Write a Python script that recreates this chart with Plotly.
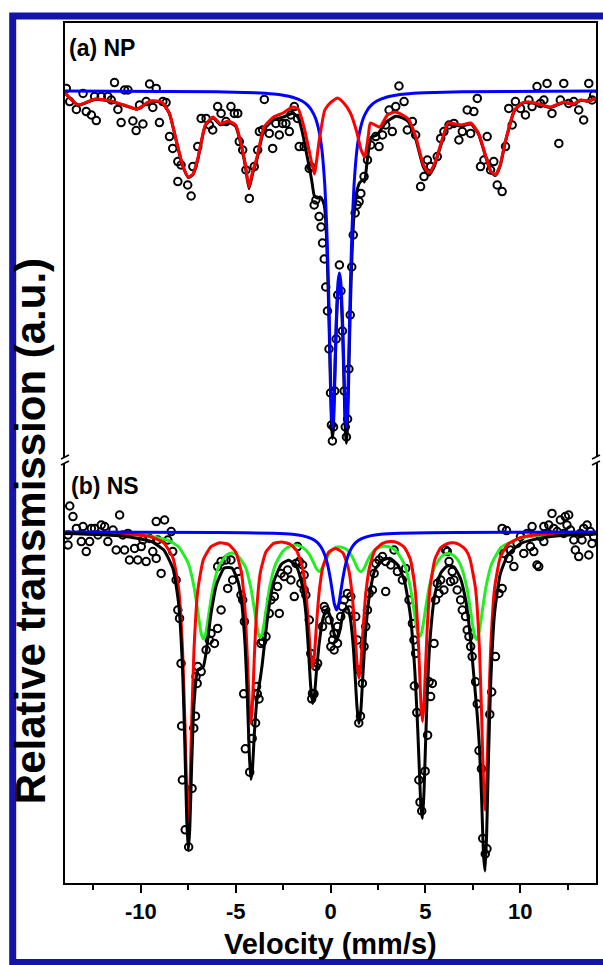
import plotly.graph_objects as go

# ---------------- (a) NP : measured points ----------------
np_v = [-13.93, -13.75, -13.40, -13.05, -12.88, -12.61, -12.44, -12.35, -12.09, -11.74, -11.56, -11.39,
        -11.21, -11.04, -10.86, -10.68, -10.42, -10.25, -10.07, -9.89, -9.72, -9.54, -9.37, -9.19,
        -9.02, -8.84, -8.67, -8.49, -8.32, -8.05, -7.88, -8.05, -7.53, -7.35, -7.26, -7.00, -6.82,
        -6.56, -6.39, -6.21, -5.95, -5.77, -5.51, -5.25, -5.07, -4.89, -4.81, -4.63, -4.46, -4.28,
        -4.02, -3.84, -3.75, -3.58, -3.49, -3.23, -3.05, -2.88, -2.70, -2.53, -2.35, -2.17, -2.09,
        -1.91, -1.74, -1.65, -1.39, -1.12, -1.04, -0.86, -0.77, -0.60,
        -0.50, -0.42, -0.33, -0.25, -0.16, -0.08, 0.00, 0.05, 0.10, 0.16, 0.22, 0.30, 0.38, 0.47,
        0.55, 0.63, 0.72, 0.78, 0.84, 0.90, 0.97, 1.04, 1.12, 1.20, 1.30, 1.40,
        1.51, 1.60, 1.77, 1.95, 2.12, 2.39, 2.56, 2.74, 2.91, 3.09, 3.26, 3.44, 3.61, 3.88, 4.05,
        4.32, 4.49, 4.75, 4.93, 5.11, 5.28, 5.63, 5.81, 5.98, 6.25, 6.51, 6.77, 6.95, 7.21, 7.39,
        7.56, 7.74, 7.91, 8.09, 8.26, 8.44, 8.61, 8.79, 9.05, 9.23, 9.40, 9.58, 9.75, 10.02, 10.28,
        10.46, 10.63, 10.89, 11.07, 11.25, 11.42, 11.68, 12.04, 12.12, 12.30, 12.56, 12.83, 13.09,
        13.35, 13.62, 13.79, 13.88]
np_t = [100.13, 99.47, 99.08, 99.88, 98.97, 98.80, 99.72, 98.52, 99.72, 99.72, 99.55, 100.42,
        99.08, 98.42, 100.05, 100.05, 98.50, 98.02, 99.30, 98.35, 99.47, 100.35, 99.18, 100.13,
        98.42, 99.47, 99.42, 97.72, 97.13, 96.47, 96.30, 95.47, 95.30, 94.75, 96.22, 97.22, 98.63,
        98.63, 98.30, 98.05, 99.22, 98.88, 98.47, 99.22, 98.88, 98.88, 97.47, 97.05, 96.05, 94.63,
        96.22, 97.05, 97.97, 98.05, 99.58, 97.88, 97.13, 98.38, 97.80, 98.38, 98.38, 97.97, 98.80,
        99.22, 98.63, 97.22, 97.22, 96.13, 96.22, 94.30, 94.55, 93.72,
        93.20, 92.40, 91.60, 90.20, 89.00, 87.10, 84.90, 83.30, 82.50, 83.20, 85.00, 87.60, 89.80, 91.30,
        90.00, 88.00, 85.00, 83.20, 82.70, 83.60, 86.10, 88.80, 91.20, 92.80, 93.90, 94.30,
        94.47, 94.88, 95.72, 96.55, 97.30, 97.72, 97.22, 97.80, 98.30, 99.05, 97.97, 99.22, 100.25, 99.47, 98.05,
        98.47, 97.80, 95.22, 95.72, 96.55, 96.22, 96.72, 97.63, 97.97, 98.30, 98.38, 97.55, 97.97, 99.05, 97.88,
        98.97, 99.63, 96.22, 96.55, 97.72, 96.05, 96.47, 95.30, 94.97, 97.22, 99.13, 98.30, 99.47, 99.13, 98.80,
        99.55, 99.22, 100.22, 99.38, 99.55, 100.38, 98.88, 97.38, 99.55, 100.38, 99.38, 99.47, 99.05,
        98.55, 100.38, 99.55, 99.80]

# (a) NP : fitted sub-spectra
np_red_v = [-14.0, -13.3, -12.4, -11.6, -10.9, -10.2, -9.5, -8.9, -8.5, -8.1, -7.8, -7.5, -7.25, -7.0,
            -6.6, -6.2, -5.8, -5.4, -5.0, -4.7, -4.5, -4.3, -4.1, -3.9, -3.5, -3.0, -2.5, -2.0, -1.7,
            -1.4, -1.1, -0.85, -0.6, -0.3, 0.0, 0.37, 0.7, 1.05, 1.4, 1.6, 1.8, 2.0, 2.1, 2.6, 3.0,
            3.4, 3.8, 4.1, 4.5, 4.9, 5.2, 5.5, 5.8, 6.2, 6.6, 6.9, 7.4, 7.8, 8.2, 8.45, 8.7, 8.95,
            9.2, 9.7, 10.1, 10.5, 11.0, 11.6, 12.3, 12.8, 13.2, 13.6, 14.0]
np_red_t = [99.9, 99.3, 99.6, 99.5, 99.3, 99.1, 99.5, 99.45, 98.9, 97.4, 96.3, 95.7, 95.85, 96.6,
            98.3, 98.7, 98.35, 98.5, 98.3, 97.3, 96.4, 95.2, 96.0, 96.6, 98.2, 98.7, 98.9, 99.2, 99.1,
            98.2, 96.9, 95.85, 97.5, 99.05, 99.42, 99.65, 99.4, 98.9, 97.9, 97.1, 96.7, 97.8, 98.4, 98.2, 98.8,
            98.95, 98.8, 98.6, 97.7, 96.3, 95.9, 96.4, 97.3, 98.4, 98.35, 98.3, 98.4, 97.9, 96.7, 96.0, 95.8, 96.3,
            97.4, 99.05, 99.4, 99.45, 99.35, 99.2, 99.45, 99.35, 99.55, 99.5, 99.65]

np_blue_v = [-14, -6, -4, -3, -2.5, -2, -1.5, -1.2, -1.0, -0.8, -0.6, -0.45, -0.3, -0.2, -0.1, -0.05,
             0, 0.05, 0.1, 0.15, 0.2, 0.3, 0.4, 0.47, 0.54, 0.64, 0.74, 0.79, 0.84, 0.89, 0.94, 0.99,
             1.04, 1.14, 1.24, 1.39, 1.54, 1.74, 1.94, 2.14, 2.44, 2.94, 3.44, 3.94, 4.94, 6.94, 14]
np_blue_t = [100.0, 99.96, 99.91, 99.85, 99.79, 99.69, 99.5, 99.28, 99.04, 98.66, 97.97, 97.03, 95.28,
             93.23, 89.99, 87.92, 85.76, 83.98, 83.18, 83.62, 85.02, 88.4, 90.48, 90.9, 90.48, 88.4,
             85.02, 83.62, 83.18, 83.98, 85.76, 87.92, 89.99, 93.23, 95.28, 97.03, 97.97, 98.66, 99.04,
             99.28, 99.5, 99.69, 99.79, 99.85, 99.91, 99.96, 100.0]

np_fit_v = [-14.0, -13.3, -12.4, -11.6, -10.9, -10.2, -9.5, -8.9, -8.5, -8.1, -7.8, -7.5, -7.25, -7.0,
            -6.6, -6.2, -5.8, -5.4, -5.0, -4.7, -4.5, -4.3, -4.1, -3.9, -3.5, -3.0, -2.5, -2.0, -1.7,
            -1.5, -1.2, -1.0, -0.85, -0.7, -0.55, -0.4, -0.3, -0.2, -0.1, -0.05, 0, 0.05, 0.1, 0.15,
            0.2, 0.3, 0.4, 0.47, 0.54, 0.64, 0.74, 0.79, 0.84, 0.89, 0.94, 0.99, 1.04, 1.14, 1.24,
            1.39, 1.54, 1.74, 1.8, 1.94, 2.14, 2.44, 2.94, 3.44, 3.8, 4.1, 4.5, 4.9, 5.2, 5.5, 5.8,
            6.2, 6.6, 6.9, 7.4, 7.8, 8.2, 8.45, 8.7, 8.95, 9.2, 9.7, 10.1, 10.5, 11.0, 11.6, 12.3,
            12.8, 13.2, 13.6, 14.0]
np_fit_t = [99.9, 99.3, 99.59, 99.49, 99.29, 99.09, 99.48, 99.43, 98.88, 97.38, 96.27, 95.68, 95.82, 96.57,
            98.27, 98.66, 98.31, 98.45, 98.24, 97.23, 96.3, 95.12, 95.9, 96.5, 98.08, 98.55, 98.69, 98.89, 98.67,
            98.0, 96.58, 95.59, 94.75, 94.65, 94.7, 94.5, 94.1, 92.48, 89.34, 87.32, 85.18, 83.42, 82.63, 83.12,
            84.57, 88.02, 90.13, 90.52, 90.06, 87.9, 84.37, 82.9, 82.38, 83.11, 84.83, 86.92, 88.92, 91.98, 93.78,
            94.98, 95.42, 95.56, 95.45, 96.54, 97.68, 97.8, 98.44, 98.74, 98.66, 98.47, 97.58, 96.19, 95.8, 96.31, 97.22,
            98.33, 98.29, 98.25, 98.35, 97.86, 96.66, 95.97, 95.77, 96.27, 97.37, 99.02, 99.38, 99.43, 99.33, 99.18, 99.43,
            99.33, 99.54, 99.49, 99.64]

# ---------------- (b) NS : measured points ----------------
ns_v = [-13.84, -13.84, -13.75, -13.58, -13.40, -13.14, -13.05, -12.88, -12.70, -12.61, -12.44, -12.26,
        -12.09, -11.91, -11.74, -11.47, -11.30, -11.12, -10.95, -10.86, -10.68, -10.60, -10.33, -10.16,
        -9.98, -9.89, -9.72, -9.54, -9.37, -9.19, -9.11, -9.19, -8.93, -8.75, -8.58, -8.40, -8.32, -8.14,
        -8.05, -7.96, -7.88, -7.85, -7.81, -7.66, -7.48, -7.30, -7.21, -7.12, -7.03, -7.09, -7.00, -6.82,
        -6.56, -6.39, -6.30, -6.12, -5.95, -5.77, -5.95, -5.77, -5.51, -5.25, -5.42, -5.16, -4.89, -4.72,
        -4.63, -4.54, -4.58, -4.49, -4.26, -4.13, -3.95, -3.86, -3.77, -3.90, -3.67, -3.58, -3.40, -3.23,
        -3.14, -2.96, -2.79, -2.70, -2.61, -2.44, -2.26, -2.09, -1.91, -1.82, -1.74, -1.65, -1.56, -1.47,
        -1.39, -1.39, -1.30, -1.12, -1.04, -0.99, -0.95, -0.87, -0.77, -0.68, -0.42, -0.33, -0.25, -0.07,
        0.02, 0.11, 0.19, 0.19, 0.37, 0.37, 0.54, 0.63, 0.72, 0.89, 0.98, 1.07, 1.33, 1.42, 1.49, 1.51,
        1.58, 1.68, 1.77, 1.86, 1.95, 2.04, 2.21, 2.30, 2.39, 2.56, 2.74, 2.91, 2.91, 3.18, 3.35, 3.53,
        3.79, 3.96, 4.14, 4.32, 4.40, 4.42, 4.49, 4.55, 4.66, 4.72, 4.81, 4.99, 5.12, 5.20, 5.28, 5.37,
        5.46, 5.54, 5.63, 5.72, 5.81, 5.98, 6.07, 6.16, 6.25, 6.33, 6.42, 6.51, 6.68, 6.86, 6.95, 7.12,
        7.21, 7.30, 7.39, 7.47, 7.65, 7.74, 7.83, 7.96, 8.03, 8.16, 8.25, 8.40, 8.50, 8.70, 8.88, 9.05,
        9.05, 9.14, 9.28, 9.40, 9.49, 9.67, 9.84, 10.02, 10.19, 10.37, 10.54, 10.63, 10.72, 10.89, 10.98,
        11.07, 11.25, 11.25, 11.42, 11.51, 11.68, 11.77, 11.95, 12.12, 12.30, 12.38, 12.47, 12.56, 12.65,
        12.83, 12.91, 13.09, 13.18, 13.26, 13.35, 13.53, 13.62, 13.70, 13.79, 13.88]
ns_t = [99.85, 99.35, 101.30, 100.77, 100.18, 99.52, 100.27, 99.02, 99.52, 100.18, 100.18, 99.85,
        100.35, 100.27, 99.52, 100.10, 99.10, 100.85, 99.85, 99.10, 99.93, 98.60, 99.18, 98.60,
        99.27, 99.60, 98.52, 99.68, 99.02, 100.52, 99.60, 98.68, 97.93, 100.60, 99.60, 100.02, 99.02, 97.60,
        96.10, 95.68, 93.43, 90.30, 87.60, 85.11, 84.25, 87.18, 90.19, 90.79, 92.43, 92.77, 93.27, 93.02,
        94.10, 94.60, 94.93, 94.43, 95.18, 96.10, 98.27, 98.52, 98.60, 98.60, 97.18, 97.60, 98.02, 96.85,
        96.60, 95.52, 91.91, 89.16, 87.99, 89.68, 90.45, 91.91, 91.65, 92.27, 94.43, 94.52, 94.77, 95.93,
        96.60, 96.77, 97.27, 95.93, 97.93, 97.77, 98.10, 97.60, 96.77, 98.43, 99.27, 98.52, 97.43, 98.35,
        97.10, 97.85, 96.85, 95.60, 93.93, 91.66, 91.93, 91.91, 93.27, 93.43, 95.27, 96.27, 96.10, 95.60,
        94.27, 94.60, 94.93, 94.10, 94.43, 95.27, 95.77, 96.27, 96.60, 96.93, 96.10, 96.77, 95.77, 94.60, 90.45, 93.10,
        90.79, 92.43, 94.27, 95.27, 96.10, 96.93, 97.10, 97.93, 98.43, 98.60, 98.77, 98.52, 97.02, 98.35, 99.10, 98.02,
        97.60, 98.18, 96.60, 95.43, 94.60, 92.30, 93.93, 90.97, 87.60, 86.49, 86.05, 88.04, 89.84, 92.51, 91.77, 92.43,
        94.43, 96.60, 97.43, 96.93, 97.60, 97.10, 99.10, 99.02, 98.52, 97.52, 98.02, 97.60, 97.10, 96.60, 96.10, 95.77,
        95.10, 94.77, 94.27, 93.77, 92.51, 91.40, 89.07, 88.16, 84.68, 83.90, 84.16, 90.88, 92.00, 93.77, 96.93, 97.18,
        100.18, 98.93, 100.07, 98.68, 99.10, 98.27, 99.43, 99.77, 98.93, 99.93, 99.27, 100.27, 99.02, 98.35, 98.27,
        99.77, 99.52, 100.27, 99.93, 100.35, 100.93, 100.18, 100.02, 100.60, 99.93, 100.77, 100.35, 100.85, 100.10,
        99.60, 99.10, 98.77, 99.93, 99.60, 100.18, 100.35, 98.85, 100.02, 99.43, 99.77]

# (b) NS : fitted sub-spectra
ns_red_v = [-14, -11, -9.5, -8.8, -8.3, -8.0, -7.8, -7.68, -7.58, -7.5, -7.42, -7.32, -7.2, -7.0, -6.7,
            -6.3, -5.85, -5.4, -5.0, -4.7, -4.5, -4.38, -4.28, -4.2, -4.12, -4.02, -3.9, -3.7, -3.4, -3.0,
            -2.58, -2.15, -1.8, -1.5, -1.3, -1.15, -1.05, -0.95, -0.85, -0.75, -0.6, -0.4, -0.1, 0.275,
            0.65, 0.95, 1.15, 1.3, 1.4, 1.5, 1.6, 1.7, 1.85, 2.05, 2.35, 2.75, 3.15, 3.55, 3.9, 4.2,
            4.45, 4.6, 4.7, 4.77, 4.85, 4.93, 5.0, 5.1, 5.25, 5.5, 5.8, 6.15, 6.5, 6.85, 7.15, 7.35,
            7.65, 7.85, 7.97, 8.07, 8.15, 8.23, 8.33, 8.45, 8.65, 8.95, 9.35, 10.0, 11.0, 12.5, 14]
ns_red_t = [99.97, 99.91, 99.76, 99.46, 98.69, 97.1, 94.1, 90.53, 86.99, 85.65, 86.98, 90.53, 94.08, 97.07, 98.63,
            99.27, 99.46, 99.39, 99.0, 97.97, 96.0, 93.65, 91.3, 90.43, 91.31, 93.66, 96.01, 97.97, 99.01, 99.43,
            99.5, 99.4, 99.09, 98.32, 97.02, 95.23, 93.85, 93.18, 93.84, 95.22, 96.99, 98.26, 98.99, 99.18,
            98.96, 98.16, 96.8, 94.88, 93.41, 92.69, 93.41, 94.9, 96.82, 98.21, 99.11, 99.43, 99.52, 99.46, 99.23, 98.66,
            97.25, 95.2, 93.0, 91.4, 90.53, 91.4, 93.0, 95.2, 97.22, 98.62, 99.2, 99.42, 99.46, 99.34, 99.08, 98.67,
            97.15, 94.25, 90.81, 87.38, 86.09, 87.38, 90.82, 94.27, 97.18, 98.72, 99.38, 99.72, 99.88, 99.94, 99.97]

ns_green_v = [-14, -11, -9.5, -8.5, -8.0, -7.5, -7.2, -7.0, -6.9, -6.8, -6.7, -6.6, -6.5, -6.4, -6.2, -5.9,
              -5.45, -5.2, -4.95, -4.5, -4.2, -4.0, -3.9, -3.8, -3.7, -3.6, -3.5, -3.4, -3.2, -2.9, -2.5,
              -2.15, -1.8, -1.4, -1.1, -0.9, -0.75, -0.6, -0.45, -0.3, -0.1, 0.2, 0.5, 0.8, 1.1, 1.3, 1.45,
              1.6, 1.75, 1.9, 2.1, 2.4, 2.8, 3.15, 3.5, 3.9, 4.2, 4.4, 4.5, 4.6, 4.7, 4.8, 4.9, 5.0, 5.2,
              5.5, 5.9, 6.2, 6.45, 6.7, 6.9, 7.2, 7.4, 7.5, 7.6, 7.7, 7.8, 7.9, 8.0, 8.2, 8.5, 9.0, 10,
              11.5, 14]
ns_green_t = [99.95, 99.9, 99.79, 99.56, 99.25, 98.44, 97.28, 96.05, 95.38, 94.86, 94.65, 94.84, 95.36, 96.01, 97.19, 98.27,
              98.87, 98.95, 98.88, 98.28, 97.21, 96.05, 95.41, 94.9, 94.72, 94.92, 95.44, 96.09, 97.29, 98.39, 99.05,
              99.28, 99.35, 99.18, 98.86, 98.48, 98.18, 98.03, 98.18, 98.48, 98.86, 99.2, 99.25, 99.16, 98.83, 98.45, 98.14,
              98.01, 98.15, 98.45, 98.83, 99.15, 99.29, 99.24, 99.01, 98.37, 97.29, 96.11, 95.47, 94.96, 94.77, 94.95, 95.45, 96.08, 97.22,
              98.27, 98.82, 98.92, 98.85, 98.62, 98.25, 97.17, 95.97, 95.32, 94.81, 94.62, 94.83, 95.35, 96.02, 97.26, 98.41, 99.23, 99.69,
              99.86, 99.94]

ns_blue_v = [-14, -6, -3, -2, -1.5, -1.0, -0.7, -0.5, -0.3, -0.15, 0, 0.1, 0.2, 0.32, 0.44, 0.54, 0.64,
             0.79, 0.94, 1.14, 1.34, 1.64, 2.14, 2.64, 3.64, 6.64, 14]
ns_blue_t = [100.0, 99.98, 99.94, 99.89, 99.82, 99.67, 99.48, 99.25, 98.85, 98.36, 97.62, 97.01, 96.42, 96.1,
             96.42, 97.01, 97.62, 98.36, 98.85, 99.25, 99.48, 99.67, 99.82, 99.89, 99.94, 99.98, 100.0]

ns_fit_v = [-14, -11, -9.5, -8.8, -8.3, -8.0, -7.8, -7.68, -7.58, -7.5, -7.42, -7.32, -7.2, -7.0, -6.85,
            -6.7, -6.55, -6.3, -6.0, -5.6, -5.2, -4.9, -4.7, -4.5, -4.38, -4.28, -4.2, -4.12, -4.02, -3.9,
            -3.8, -3.7, -3.6, -3.45, -3.25, -3.0, -2.6, -2.2, -1.8, -1.5, -1.3, -1.15, -1.05, -0.95, -0.85,
            -0.75, -0.6, -0.4, -0.2, 0.0, 0.15, 0.32, 0.5, 0.7, 0.9, 1.05, 1.2, 1.3, 1.4, 1.5, 1.6, 1.7,
            1.85, 2.05, 2.35, 2.75, 3.15, 3.55, 3.9, 4.2, 4.45, 4.6, 4.7, 4.77, 4.85, 4.93, 5.0, 5.1, 5.25,
            5.5, 5.8, 6.15, 6.5, 6.85, 7.15, 7.35, 7.5, 7.65, 7.75, 7.85, 7.97, 8.07, 8.15, 8.23, 8.33,
            8.45, 8.65, 8.95, 9.35, 10.0, 11.0, 12.5, 14]
ns_fit_t = [99.92, 99.8, 99.54, 99.11, 98.15, 96.34, 93.11, 89.35, 85.61, 84.09, 85.18, 88.37, 91.36, 93.11, 93.16,
            93.28, 94.04, 95.91, 97.41, 98.2, 98.2, 97.6, 96.61, 94.28, 91.6, 88.88, 87.64, 88.1, 89.84, 91.42,
            92.14, 92.69, 93.39, 94.67, 96.21, 97.49, 98.38, 98.59, 98.3, 97.38, 95.94, 93.92, 92.35, 91.43, 91.82,
            92.92, 94.4, 95.65, 96.12, 95.75, 95.07, 94.53, 95.09, 96.07, 96.22, 95.65, 94.27, 92.78, 91.22, 90.42, 91.08, 92.72,
            94.96, 96.81, 98.12, 98.6, 98.68, 98.35, 97.55, 95.91, 93.01, 90.13, 87.75, 86.23, 85.67, 86.99, 89.05, 91.85, 94.64,
            96.86, 97.92, 98.3, 98.26, 97.69, 96.47, 94.96, 93.43, 91.8, 90.7, 89.3, 86.6, 83.85, 83.05, 84.78, 88.66,
            92.52, 95.92, 97.89, 98.85, 99.41, 99.68, 99.85, 99.9]

x_tick_vals = [-10, -5, 0, 5, 10]
x_tick_text = ['-10', '-5', '0', '5', '10']
x_minor_vals = [-12.5, -7.5, -2.5, 2.5, 7.5, 12.5]

FONT = 'Liberation Sans, Arial, sans-serif'
W, H = 603, 965
ML, MR, MT, MB = 65, 5, 23, 82
PW, PH = W - ML - MR, H - MT - MB


def px(x):
    return (x - ML) / PW


def py(y):
    return (H - MB - y) / PH


fig = go.Figure()


def pts(v, t, xa, ya):
    return go.Scatter(x=v, y=t, mode='markers', xaxis=xa, yaxis=ya,
                      marker=dict(symbol='circle-open', size=7.5, color='black', line=dict(width=2, color='black')),
                      hoverinfo='skip')


def curve(v, t, color, xa, ya, width=3):
    return go.Scatter(x=v, y=t, mode='lines', xaxis=xa, yaxis=ya,
                      line=dict(color=color, width=width, shape='spline', smoothing=0.5), hoverinfo='skip')


# top panel
fig.add_trace(pts(np_v, np_t, 'x2', 'y'))
fig.add_trace(curve(np_fit_v, np_fit_t, 'black', 'x2', 'y'))
fig.add_trace(curve(np_blue_v, np_blue_t, '#0000ff', 'x2', 'y'))
fig.add_trace(curve(np_red_v, np_red_t, '#ff0000', 'x2', 'y'))
# bottom panel
fig.add_trace(pts(ns_v, ns_t, 'x', 'y2'))
fig.add_trace(curve(ns_green_v, ns_green_t, '#22ee22', 'x', 'y2'))
fig.add_trace(curve(ns_red_v, ns_red_t, '#ff0000', 'x', 'y2'))
fig.add_trace(curve(ns_blue_v, ns_blue_t, '#0000ff', 'x', 'y2'))
fig.add_trace(curve(ns_fit_v, ns_fit_t, 'black', 'x', 'y2'))

axis_common = dict(showgrid=False, zeroline=False, showline=True, linecolor='black', linewidth=2)

fig.update_layout(
    width=W, height=H, margin=dict(l=ML, r=MR, t=MT, b=MB),
    paper_bgcolor='white', plot_bgcolor='white', showlegend=False,
    xaxis=dict(domain=[0, 1], anchor='y2', range=[-14, 14], **axis_common,
               ticks='outside', ticklen=8, tickwidth=2, tickcolor='black',
               tickmode='array', tickvals=x_tick_vals, ticktext=x_tick_text,
               tickfont=dict(family=FONT, size=22, color='black', weight='bold'),
               minor=dict(tickmode='array', tickvals=x_minor_vals, ticks='outside', ticklen=5,
                          tickwidth=2, tickcolor='black')),
    xaxis2=dict(domain=[0, 1], anchor='y', matches='x', side='top', **axis_common,
                showticklabels=False, ticks=''),
    yaxis=dict(domain=[py(457), 1], anchor='x2', range=[81.7, 103.4], **axis_common, mirror=True,
               showticklabels=False, ticks=''),
    yaxis2=dict(domain=[0, py(463)], anchor='x', range=[82.45, 103.45], **axis_common, mirror=True,
                showticklabels=False, ticks=''),
)

shapes = []
# axis break marks
for x0 in (61, 594):
    for yb in (459, 465):
        shapes.append(dict(type='line', xref='paper', yref='paper', x0=px(x0), x1=px(x0 + 8),
                           y0=py(yb), y1=py(yb - 4), line=dict(color='black', width=1.5)))
# blue outer frame
shapes.append(dict(type='rect', xref='paper', yref='paper', x0=px(12.5), x1=px(650), y0=py(962.5), y1=py(16),
                   line=dict(color='#1414a8', width=7), fillcolor='rgba(0,0,0,0)', layer='above'))
fig.update_layout(shapes=shapes)

annotations = [
    dict(text='<b>(a) NP</b>', x=px(67), y=py(48), xref='paper', yref='paper', xanchor='left', yanchor='middle',
         showarrow=False, font=dict(family=FONT, size=23, color='black')),
    dict(text='<b>(b) NS</b>', x=px(69), y=py(486), xref='paper', yref='paper', xanchor='left', yanchor='middle',
         showarrow=False, font=dict(family=FONT, size=23, color='black')),
    dict(text='<b>Velocity (mm/s)</b>', x=px(331), y=py(944), xref='paper', yref='paper', xanchor='center',
         yanchor='middle', showarrow=False, font=dict(family=FONT, size=29, color='black')),
    dict(text='<b>Relative transmission (a.u.)</b>', x=px(30), y=py(531), xref='paper', yref='paper',
         xanchor='center', yanchor='middle', textangle=-90, showarrow=False,
         font=dict(family=FONT, size=42, color='black')),
]
fig.update_layout(annotations=annotations)

fig.write_html('out.html')
